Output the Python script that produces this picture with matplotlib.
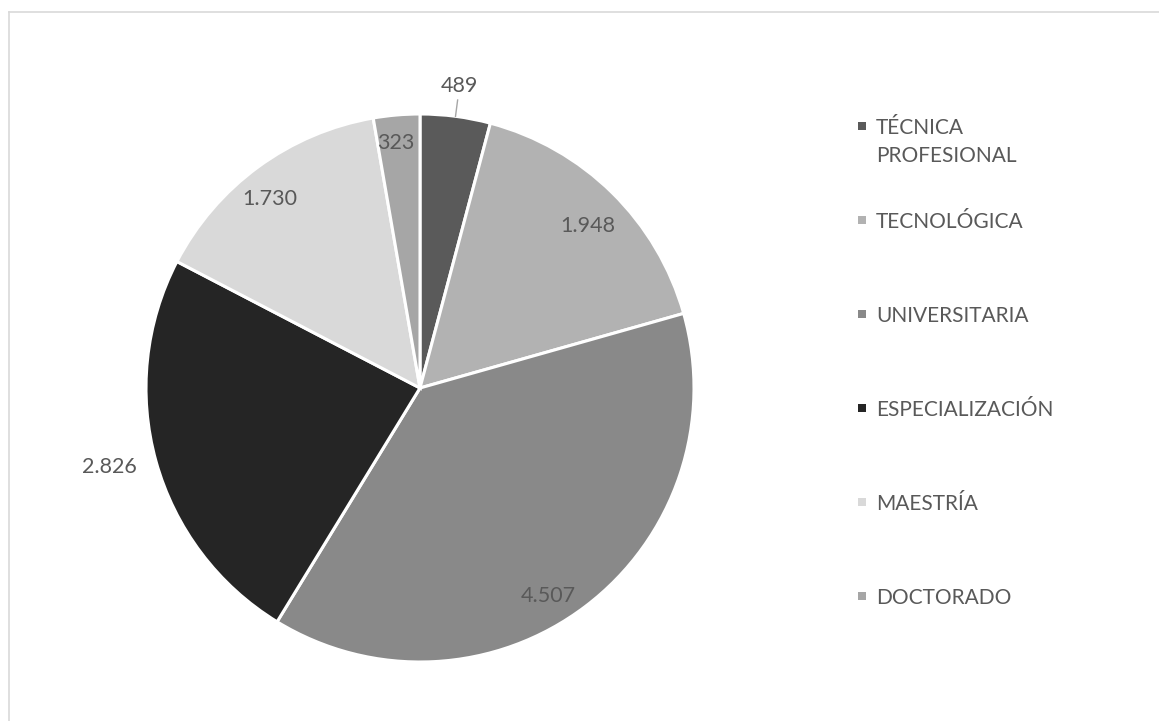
import matplotlib.pyplot as plt
import numpy as np
from matplotlib.lines import Line2D
from matplotlib.patches import Rectangle

# niveles de formacion
niveles = ["TÉCNICA\nPROFESIONAL", "TECNOLÓGICA", "UNIVERSITARIA",
           "ESPECIALIZACIÓN", "MAESTRÍA", "DOCTORADO"]
valores = [489, 1948, 4507, 2826, 1730, 323]
etiquetas = ["489", "1.948", "4.507", "2.826", "1.730", "323"]
colores = ["#5a5a5a", "#b2b2b2", "#898989", "#252525", "#d9d9d9", "#a6a6a6"]

# radio relativo de cada etiqueta y ajuste de angulo (grados)
radioEtiq = [1.11, 0.85, 0.89, 1.17, 0.88, 0.90]
ajusteAng = [0, -1.5, -5.5, -1.3, 2.4, 0.6]

W, H = 1159, 721
cx, cy, R = 420, 388, 274
colorTexto = "#595959"
fuente = ["Lato", "DejaVu Sans"]

fig = plt.figure(figsize=(W / 100, H / 100), dpi=100, facecolor='w')

# marco del grafico
fig.add_artist(Line2D([8.5 / W, 1], [1 - 11.5 / H, 1 - 11.5 / H], color="#d9d9d9", lw=1.2,
                      transform=fig.transFigure))
fig.add_artist(Line2D([8.5 / W, 8.5 / W], [0, 1 - 11.5 / H], color="#d9d9d9", lw=1.2,
                      transform=fig.transFigure))

ax = fig.add_axes([(cx - R) / W, (H - cy - R) / H, 2 * R / W, 2 * R / H])
wedges, _ = ax.pie(valores, colors=colores, startangle=90, counterclock=False, radius=1,
                   wedgeprops=dict(edgecolor='w', linewidth=2.2))
ax.set_xlim(-1, 1)
ax.set_ylim(-1, 1)
ax.set_aspect('equal')
ax.axis('off')

for w, txt, r, da in zip(wedges, etiquetas, radioEtiq, ajusteAng):
    ang = np.deg2rad((w.theta1 + w.theta2) / 2 + da)
    x, y = r * np.cos(ang), r * np.sin(ang)
    ax.text(x, y, txt, ha='center', va='center', fontsize=15.5, color=colorTexto,
            family=fuente, clip_on=False)

# linea guia de la etiqueta exterior de la primera porcion
w0 = wedges[0]
a0 = np.deg2rad((w0.theta1 + w0.theta2) / 2)
ax.plot([1.0 * np.cos(a0), 1.06 * np.cos(a0)], [1.0 * np.sin(a0), 1.06 * np.sin(a0)],
        color="#a6a6a6", lw=1, clip_on=False)

# leyenda (centro vertical de la primera linea de cada entrada)
yLeg = [126, 220, 314, 408, 502, 596]
for nombre, col, yp in zip(niveles, colores, yLeg):
    fig.add_artist(Rectangle((858 / W, 1 - (yp + 4) / H), 8 / W, 8 / H, facecolor=col,
                             edgecolor='none', transform=fig.transFigure))
    for i, linea in enumerate(nombre.split("\n")):
        fig.text(876 / W, 1 - (yp + 7.5 + 28 * i) / H, linea, ha='left', va='baseline',
                 fontsize=15, color=colorTexto, family=fuente)

fig.savefig("out.png", dpi=100, facecolor='w')
